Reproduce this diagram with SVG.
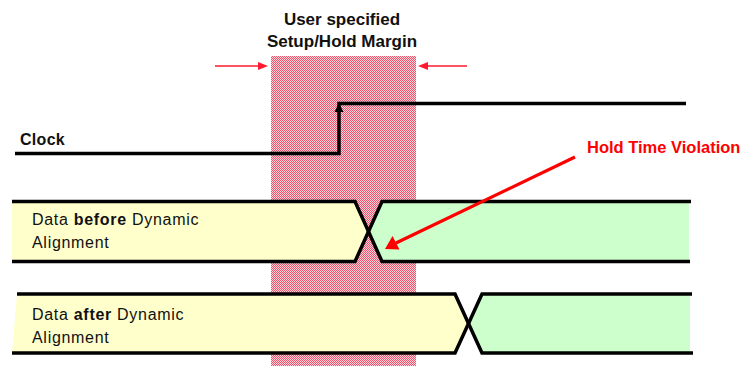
<svg xmlns="http://www.w3.org/2000/svg" width="744" height="366" viewBox="0 0 744 366">
  <defs>
    <!-- dithered pink used for the margin window -->
    <pattern id="dither" patternUnits="userSpaceOnUse" x="0" y="0" width="2" height="2">
      <rect width="2" height="2" fill="#ffd0d7"/>
      <rect x="0" y="0" width="1" height="1" fill="#ec5670"/>
      <rect x="1" y="1" width="1" height="1" fill="#ec5670"/>
    </pattern>
  </defs>
  <style>
    .wave { fill: none; stroke: #000; stroke-width: 3.5; stroke-linejoin: miter; }
    .yellow { fill: #ffffcc; }
    .green { fill: #ccffcc; }
    .title { font-family: "Liberation Sans", Arial, sans-serif; font-weight: bold; font-size: 17px; fill: #111; }
    .sig { font-family: "Liberation Sans", Arial, sans-serif; font-size: 16px; fill: #111; letter-spacing: 0.7px; }
    .sigb { font-family: "Liberation Sans", Arial, sans-serif; font-weight: bold; font-size: 16px; fill: #111; }
    .alert { font-family: "Liberation Sans", Arial, sans-serif; font-weight: bold; font-size: 16.5px; fill: #ff0000; }
    .margin-arrow { stroke: #ff1a2e; stroke-width: 1.6; fill: none; }
  </style>

  <!-- setup/hold margin window -->
  <g id="margin">
    <rect x="271" y="56" width="145" height="310" fill="url(#dither)"/>
    <text class="title" x="342" y="25" text-anchor="middle">User specified</text>
    <text class="title" x="342" y="47" text-anchor="middle">Setup/Hold Margin</text>
  </g>

  <!-- clock waveform -->
  <g id="clock">
    <text class="sigb" x="20" y="145" letter-spacing="0.3">Clock</text>
    <path class="wave" d="M15,153.5 H339 V103.5 H686"/>
    <path d="M334.5,112 L339,103 L343.5,112 z" fill="#000"/>
  </g>

  <!-- data bus before dynamic alignment -->
  <g id="data-before">
    <path class="yellow" d="M12,201.5 H355 L368.5,231.5 L355,261.5 H12 z"/>
    <path class="green" d="M382,201.5 H689 V261.5 H382 L368.5,231.5 z"/>
    <path class="wave" d="M12,201.5 H355 L382,261.5 H690"/>
    <path class="wave" d="M12,261.5 H355 L382,201.5 H691"/>
    <text class="sig" x="32" y="225">Data <tspan class="sigb">before</tspan> Dynamic</text>
    <text class="sig" x="32" y="248">Alignment</text>
  </g>

  <!-- data bus after dynamic alignment -->
  <g id="data-after">
    <path class="yellow" d="M17,294 H455 L468.5,323.5 L455,353 H12 z"/>
    <path class="green" d="M482,294 H690 V353 H482 L468.5,323.5 z"/>
    <path class="wave" d="M17,294 H455 L482,353 H693"/>
    <path class="wave" d="M12,353 H455 L482,294 H692"/>
    <text class="sig" x="32" y="320">Data <tspan class="sigb">after</tspan> Dynamic</text>
    <text class="sig" x="32" y="343">Alignment</text>
  </g>

  <!-- violation callout -->
  <g id="violation">
    <text class="alert" x="587" y="153">Hold Time Violation</text>
  </g>

  <!-- arrows -->
  <g id="connectors">
    <line class="margin-arrow" x1="215" y1="66" x2="260" y2="66"/>
    <path d="M258,62 L268,66 L258,70 z" fill="#ff1a2e"/>
    <line class="margin-arrow" x1="467" y1="66" x2="426" y2="66"/>
    <path d="M428,62 L418,66 L428,70 z" fill="#ff1a2e"/>
    <line x1="575" y1="157" x2="396" y2="243" stroke="#ff0000" stroke-width="3.2"/>
    <path d="M385,249 L392.5,236 L399.5,249.5 z" fill="#ff0000"/>
  </g>
</svg>
